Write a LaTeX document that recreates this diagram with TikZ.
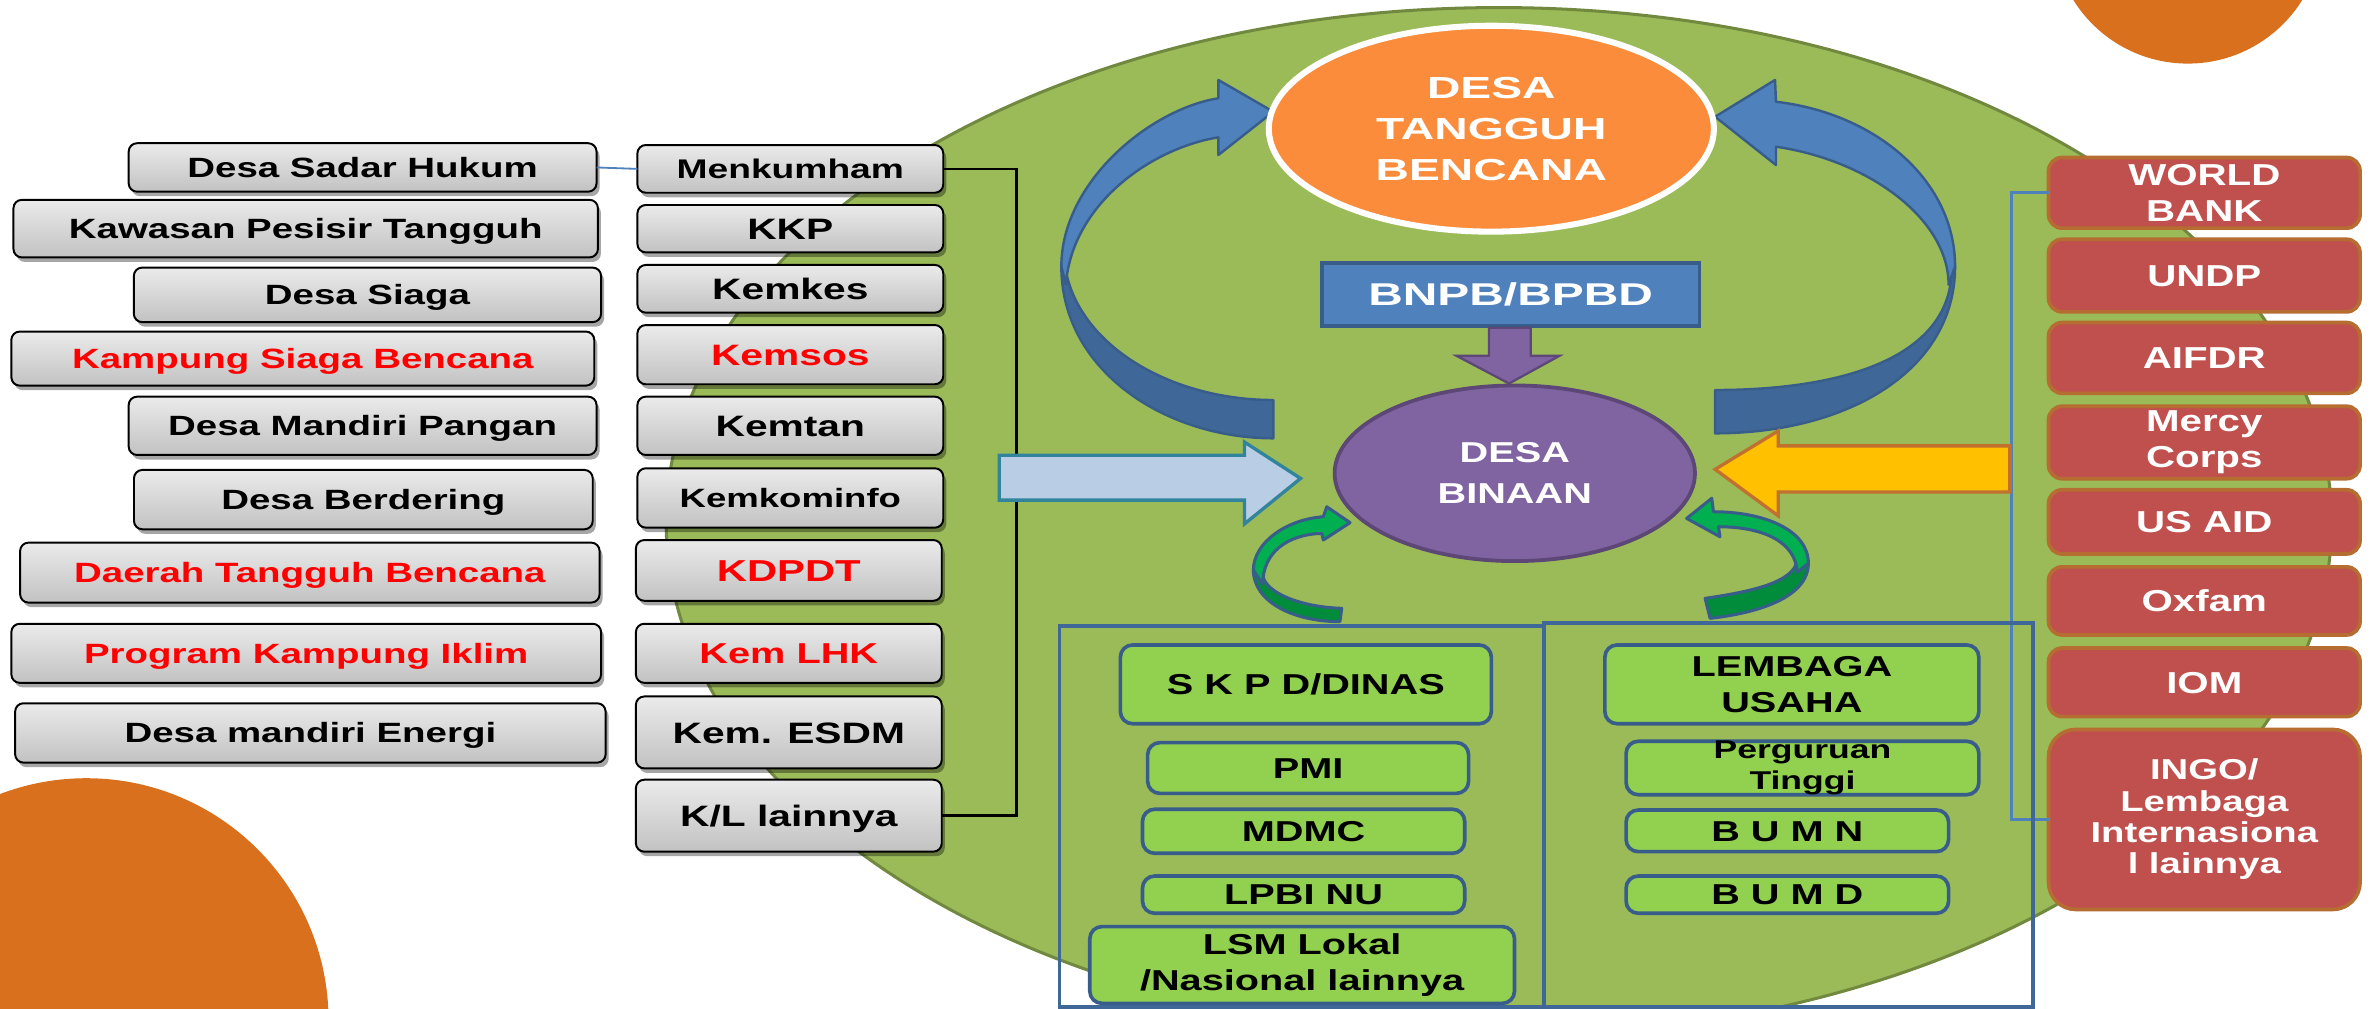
\documentclass[tikz,border=0pt]{standalone}
\usepackage{fontspec}
\setmainfont{Liberation Sans}
\newfontfamily\fa{Liberation Sans}[FakeStretch=1.38]
\newfontfamily\fb{Liberation Sans}[FakeStretch=1.52]
\newfontfamily\fd{Liberation Sans}[FakeStretch=1.33]
\usetikzlibrary{shapes.geometric,shadows}
\definecolor{cgreen}{HTML}{9BBB59}
\definecolor{cgreenedge}{HTML}{71893F}
\definecolor{corange}{HTML}{FA8C3C}
\definecolor{ccorner}{HTML}{D8701E}
\definecolor{cblue}{HTML}{4F81BD}
\definecolor{cbluedark}{HTML}{3F6797}
\definecolor{cblueedge}{HTML}{385D8A}
\definecolor{cpurple}{HTML}{8064A2}
\definecolor{cpurpleedge}{HTML}{5C4776}
\definecolor{clight}{HTML}{B9CDE5}
\definecolor{cteal}{HTML}{31849B}
\definecolor{cyellow}{HTML}{FFC000}
\definecolor{cyellowedge}{HTML}{C0712E}
\definecolor{cred}{HTML}{C0504D}
\definecolor{crededge}{HTML}{B66D31}
\definecolor{clime}{HTML}{92D050}
\definecolor{cgarrow}{HTML}{00B050}
\definecolor{cgarrowdark}{HTML}{008C3A}
\definecolor{ctextred}{HTML}{FF0000}
\begin{document}
\begin{tikzpicture}[x=1pt,y=-1pt,
  sz/.style 2 args={minimum width=#1pt,minimum height=#2pt},
  capbox/.style={text height=#1pt,text depth=0pt},
  gbox/.style={draw=black,line width=1.3pt,rounded corners=5.5pt,top color=white!92!black,bottom color=white!76!black,
    inner sep=0pt,outer sep=0pt,drop shadow={shadow xshift=2pt,shadow yshift=-3pt,opacity=0.35,fill=black}},
  ltext/.style={font=\fa\bfseries\fontsize{18.4}{20}\selectfont,capbox=13.2},
  ktext/.style={font=\fa\bfseries\fontsize{19.5}{21}\selectfont,capbox=14},
  redt/.style={text=ctextred},
  gnbox/.style={draw=cblueedge,line width=2.4pt,fill=clime,rounded corners=8pt,inner sep=0pt,outer sep=0pt,align=center,
    font=\fa\bfseries\fontsize{19}{23.7}\selectfont},
  rbox/.style={draw=crededge,line width=2.4pt,fill=cred,rounded corners=9pt,inner sep=0pt,outer sep=0pt,text=white,align=center,
    font=\fd\bfseries\fontsize{20}{23.7}\selectfont},
  framebox/.style={draw=cbluedark,line width=2.5pt,inner sep=0pt,outer sep=0pt},
  bracketline/.style={draw=black,line width=1.6pt},
  thinblue/.style={draw=cblue,line width=1.2pt},
  rbracket/.style={draw=cblue,line width=2pt},
  bigarrow/.style={draw=cblueedge,line width=1.6pt,line join=round},
  smallarrow/.style={draw=cblueedge,line width=2pt,line join=round}
]
\useasboundingbox (0,0) rectangle (1568,666);
\clip (0,0) rectangle (1568,666);

% decorative corners
\fill[ccorner] (57,674) circle[radius=160pt];
\fill[ccorner] (1445,-47) circle[radius=89pt];

% big green ellipse
\filldraw[fill=cgreen,draw=cgreenedge,line width=2pt] (990,345) ellipse[x radius=550pt,y radius=340pt];

% left column
\node[gbox,ltext,sz={309}{32}]   (sadar)    at (239.5,110.6) {Desa Sadar Hukum};
\node[gbox,ltext,sz={386}{38}]   (kawasan)  at (201.9,151)   {Kawasan Pesisir Tangguh};
\node[gbox,ltext,sz={308.6}{36}] (siaga)    at (242.7,194.75){Desa Siaga};
\node[gbox,ltext,redt,sz={385}{35.7}] (kampung) at (200,236.85) {Kampung Siaga Bencana};
\node[gbox,ltext,sz={309}{38.5}] (pangan)   at (239.5,281.25){Desa Mandiri Pangan};
\node[gbox,ltext,sz={303}{39.2}] (berdering) at (240,330)    {Desa Berdering};
\node[gbox,ltext,redt,sz={382.7}{39.6}] (daerah) at (204.65,378.2) {Daerah Tangguh Bencana};
\node[gbox,ltext,redt,sz={389.5}{39}] (program) at (202.25,431.5) {Program Kampung Iklim};
\node[gbox,ltext,sz={390}{39.2}] (energi)   at (205,484.1)   {Desa mandiri Energi};

% ministries column
\node[gbox,ktext,sz={202}{31.5},font=\fa\bfseries\fontsize{17.8}{20}\selectfont,capbox=12.7] (menk) at (522,111.55) {Menkumham};
\node[gbox,ktext,sz={202}{31.3}] (kkp)    at (522,151.05) {KKP};
\node[gbox,ktext,sz={202}{31.5}] (kemkes) at (522,190.75) {Kemkes};
\node[gbox,ktext,redt,sz={202}{39.1}] (kemsos) at (522,234.25) {Kemsos};
\node[gbox,ktext,sz={202}{38.5}] (kemtan) at (522,281.25) {Kemtan};
\node[gbox,ktext,sz={202}{39.2},font=\fa\bfseries\fontsize{17.5}{20}\selectfont,capbox=12.5] (kominfo) at (522,328.9) {Kemkominfo};
\node[gbox,ktext,redt,sz={202}{40.1},font=\fa\bfseries\fontsize{20}{21}\selectfont,capbox=14.3] (kdpdt) at (521,376.75) {KDPDT};
\node[gbox,ktext,redt,sz={202}{39},font=\fa\bfseries\fontsize{19}{21}\selectfont,capbox=13.6] (lhk) at (521,431.5) {Kem LHK};
\node[gbox,ktext,sz={202}{47.5}] (esdm) at (521,483.75) {Kem. ESDM};
\node[gbox,ktext,sz={202}{47.5}] (kl)   at (521,538.75) {K/L lainnya};

% connectors on the left
\coordinate (brx) at (671.5,0);
\draw[thinblue] (sadar.east) -- (menk.west);
\draw[bracketline] (menk.east) -- (menk.east -| brx) -- (kl.east -| brx) -- (kl.east);

% right column
\node[rbox,sz={205.8}{46.7}] (wb)    at (1455.9,127.35) {WORLD\\BANK};
\node[rbox,sz={205.8}{48},capbox=14.3]   (undp)  at (1455.9,182)    {UNDP};
\node[rbox,sz={205.8}{46.8},capbox=14.3] (aifdr) at (1455.9,236.4)  {AIFDR};
\node[rbox,sz={205.8}{47.9}] (mercy) at (1455.9,292.25) {Mercy\\Corps};
\node[rbox,sz={205.8}{42.4},capbox=14.3] (usaid) at (1455.9,344.7)  {US AID};
\node[rbox,sz={205.8}{45},capbox=14.3]   (oxfam) at (1455.9,396.9)  {Oxfam};
\node[rbox,sz={205.8}{45.3},capbox=14.3] (iom)   at (1455.9,450.65) {IOM};
\node[rbox,sz={205.8}{118.9},rounded corners=18pt,font=\fd\bfseries\fontsize{19}{20.7}\selectfont] (ingo) at (1455.9,541.25)
  {INGO/\\Lembaga\\Internasiona\\l lainnya};
\coordinate (rbx) at (1328.7,0);
\draw[rbracket] (wb.west) -- (wb.west -| rbx) -- (ingo.west -| rbx) -- (ingo.west);

% big curved blue arrows (left)
\filldraw[bigarrow,fill=cbluedark] (701,176) .. controls (701,245) and (770,289.5) .. (841,289.5)
  -- (841,264.2) .. controls (770,264.2) and (708,225) .. (703,172) -- cycle;
\filldraw[bigarrow,fill=cblue] (841,73.8) -- (804.7,102.4) -- (804.7,90.7)
  .. controls (760,98) and (708,135) .. (704,188) -- (701,176)
  .. controls (701,120) and (760,72) .. (804.7,64.9) -- (804.7,52.8) -- cycle;
% big curved blue arrows (right)
\filldraw[bigarrow,fill=cbluedark] (1291.3,176) .. controls (1291.3,245) and (1220,286.2) .. (1132.8,286.2)
  -- (1132.8,257.6) .. controls (1220,257.6) and (1287,235) .. (1289,180) -- cycle;
\filldraw[bigarrow,fill=cblue] (1132.8,77.1) -- (1172.4,52.8) -- (1173,67.2)
  .. controls (1240,75) and (1291.3,120) .. (1291.3,176) -- (1287,188)
  .. controls (1287,145) and (1235,106) .. (1173,96.9) -- (1173,109) -- cycle;

% centre
\node[ellipse,draw=white,line width=4pt,fill=corange,minimum width=294pt,minimum height=136pt,inner sep=0pt,
  text=white,align=center,font=\fb\bfseries\fontsize{20.1}{27}\selectfont] (dtb) at (985,85) {DESA\\TANGGUH\\BENCANA};
\node[draw=cblueedge,line width=2.5pt,fill=cblue,sz={249.5}{41.7},inner sep=0pt,text=white,capbox=14.9,
  font=\fb\bfseries\fontsize{20.8}{22}\selectfont] (bnpb) at (997.75,194.55) {BNPB/BPBD};
\filldraw[fill=cpurple,draw=cpurpleedge,line width=1.5pt] (983.5,216.5) -- (1011,216.5) -- (1011,235) -- (1030,235)
  -- (996.7,253.3) -- (962,235) -- (983.5,235) -- cycle;
\node[ellipse,draw=cpurpleedge,line width=2.5pt,fill=cpurple,minimum width=238pt,minimum height=116pt,inner sep=0pt,
  text=white,align=center,font=\fa\bfseries\fontsize{19}{27}\selectfont] (binaan) at (1000.5,312.6) {DESA\\BINAAN};

% side block arrows
\filldraw[fill=clight,draw=cteal,line width=2.2pt] (660,300.7) -- (822,300.7) -- (822,292) -- (859,316)
  -- (822,346) -- (822,330.3) -- (660,330.3) -- cycle;
\filldraw[fill=cyellow,draw=cyellowedge,line width=2.2pt] (1327.5,294.5) -- (1174.5,294.5) -- (1174.5,284.6)
  -- (1132.8,310) -- (1174.5,340.7) -- (1174.5,325) -- (1327.5,325) -- cycle;

% small green curved arrows
\filldraw[smallarrow,fill=cgarrowdark] (827.8,376.5) .. controls (828,398) and (855,410.6) .. (885,410.6)
  -- (886.2,401.8) .. controls (860,401) and (836,392) .. (834,380) -- cycle;
\filldraw[smallarrow,fill=cgarrow] (891.7,345.2) -- (876.3,334.7) -- (874,341.3)
  .. controls (850,343) and (828,358) .. (827.8,376.5) -- (834,386)
  .. controls (834,365) and (850,353) .. (873,352.3) -- (874,356.7) -- cycle;
\filldraw[smallarrow,fill=cgarrowdark] (1194.4,372) .. controls (1194.4,395) and (1160,405) .. (1129.5,408.4)
  -- (1126.2,395.2) .. controls (1155,391) and (1185,385) .. (1187,370) -- cycle;
\filldraw[smallarrow,fill=cgarrow] (1114,342.4) -- (1130.6,329.1) -- (1131.7,338)
  .. controls (1165,338) and (1194.4,350) .. (1194.4,372) -- (1187,378)
  .. controls (1186,358) and (1165,348) .. (1135,347.9) -- (1136,354.5) -- cycle;

% lower frames
\node[framebox,sz={320}{251.7}] (frameL) at (859.8,539.15) {};
\node[framebox,sz={323}{253.3}] (frameR) at (1181.3,538.35) {};

% lower green boxes
\node[gnbox,sz={245}{52},capbox=13.6]     (skpd)    at (862.5,452)    {S K P D/DINAS};
\node[gnbox,sz={212}{33.5},capbox=13.6]   (pmi)     at (864,507.25)   {PMI};
\node[gnbox,sz={212.8}{29.1},capbox=13.6] (mdmc)    at (861,549.05)   {MDMC};
\node[gnbox,sz={212.8}{24.6},capbox=13.6] (lpbi)    at (861,590.9)    {LPBI NU};
\node[gnbox,sz={280.5}{50.7}] (lsm)     at (860.05,637.35){LSM Lokal\\/Nasional lainnya};
\node[gnbox,sz={247}{52}]     (lembaga) at (1183.5,452)   {LEMBAGA\\USAHA};
\node[gnbox,sz={233}{33.5},font=\fa\bfseries\fontsize{17}{20}\selectfont] (pt) at (1190.5,507.25) {Perguruan\\Tinggi};
\node[gnbox,sz={213}{27.5},capbox=13.6]   (bumn)    at (1180.5,548.75){B U M N};
\node[gnbox,sz={213}{24.6},capbox=13.6]   (bumd)    at (1180.5,590.9) {B U M D};
\end{tikzpicture}
\end{document}
